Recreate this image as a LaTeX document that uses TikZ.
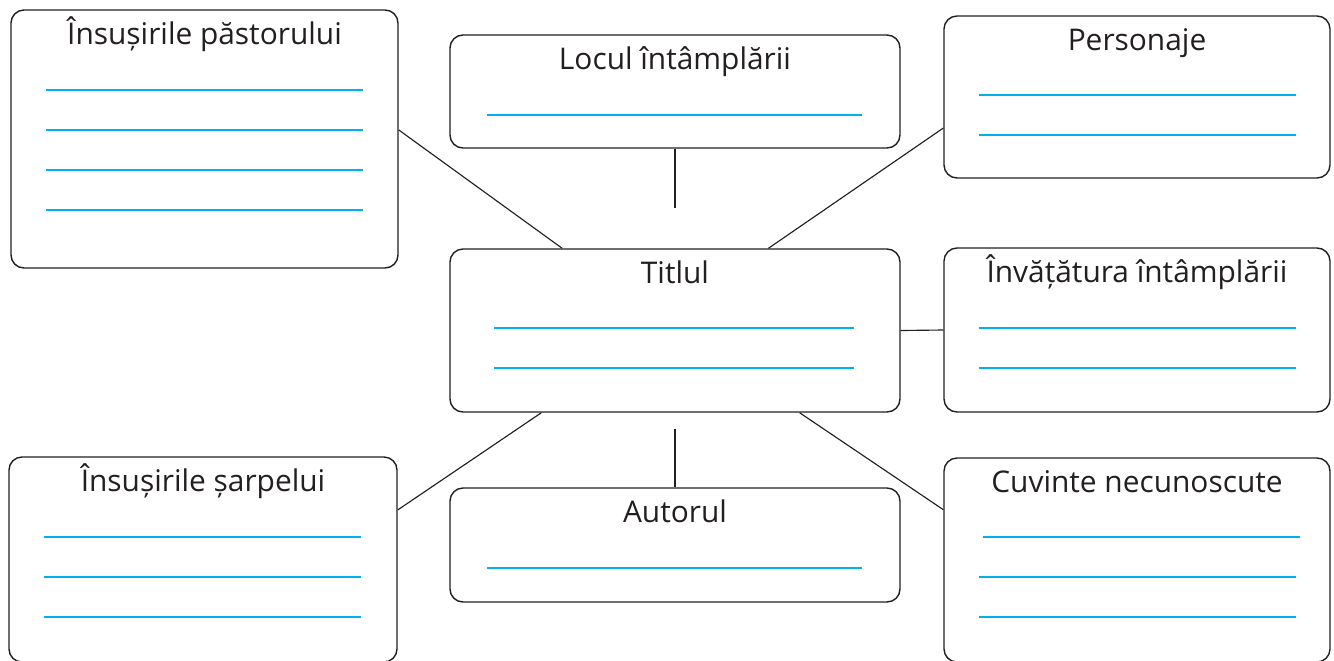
\documentclass[tikz,border=0pt]{standalone}
\usepackage{fontspec}
\setmainfont{Open Sans}
\usetikzlibrary{fit, calc}

\definecolor{inkgray}{HTML}{231F20}
\definecolor{linecyan}{HTML}{00B0F0}

\begin{document}
\begin{tikzpicture}[x = 0.2mm, y = -0.2mm, % one unit is one pixel of the sheet
                line width = 0.75pt % line style
            ]

            \tikzstyle{box}=[draw = inkgray, rounded corners = 2.6mm,
            inner sep = 0pt, line width = 0.8pt]
            \tikzstyle{title}=[anchor = base, inner sep = 0pt, text = inkgray,
            font = \fontsize{17}{19}\selectfont]
            \tikzstyle{writeline}=[draw = linecyan, line width = 1.4pt]
            \tikzstyle{link}=[draw = inkgray, line width = 0.65pt]

            \useasboundingbox (0,0) rectangle (1334,660);

            % boxes
            \node[box, fit = {(11,10) (398,268)}] (pastor) {};
            \node[box, fit = {(450,35) (900,148)}] (locul) {};
            \node[box, fit = {(944,16) (1330,178)}] (pers) {};
            \node[box, fit = {(450,249) (900,412)}] (titlu) {};
            \node[box, fit = {(944,248) (1330,412)}] (invat) {};
            \node[box, fit = {(9,457) (397,662)}] (sarpe) {};
            \node[box, fit = {(450,488) (900,602)}] (autor) {};
            \node[box, fit = {(944,458) (1330,662)}] (cuvinte) {};

            % titles
            \node[title] at ([yshift = -7mm]pastor.north) {Însușirile păstorului};
            \node[title] at ([yshift = -7mm]locul.north) {Locul întâmplării};
            \node[title] at ([yshift = -7mm]pers.north) {Personaje};
            \node[title] at ([yshift = -7mm]titlu.north) {Titlul};
            \node[title] at ([yshift = -7mm]invat.north) {Învățătura întâmplării};
            \node[title] at ([yshift = -7mm]sarpe.north) {Însușirile șarpelui};
            \node[title] at ([yshift = -7mm]autor.north) {Autorul};
            \node[title] at ([yshift = -7mm]cuvinte.north) {Cuvinte necunoscute};

            % lines to write on
            \foreach \y in {90,130,170,210} \draw[writeline] (46,\y) -- (363,\y);
            \draw[writeline] (487,115) -- (862,115);
            \foreach \y in {95,135} \draw[writeline] (979,\y) -- (1296,\y);
            \foreach \y in {328,368} \draw[writeline] (494,\y) -- (854,\y);
            \foreach \y in {328,368} \draw[writeline] (979,\y) -- (1296,\y);
            \foreach \y in {537,577,617} \draw[writeline] (44,\y) -- (361,\y);
            \draw[writeline] (487,568) -- (862,568);
            \draw[writeline] (983,537) -- (1300,537);
            \foreach \y in {577,617} \draw[writeline] (979,\y) -- (1296,\y);

            % free ends of the two short strokes
            \coordinate (locgap) at (675,208);
            \coordinate (autgap) at (675,429);

            \path[link] ($(pastor.north east)!0.465!(pastor.south east)$) --
            ($(titlu.north west)!0.25!(titlu.north east)$);
            \path[link] ($(pers.north west)!0.69!(pers.south west)$) --
            ($(titlu.north west)!0.707!(titlu.north east)$);
            \path[link] ($(titlu.south west)!0.204!(titlu.south east)$) --
            ($(sarpe.north east)!0.26!(sarpe.south east)$);
            \path[link] ($(titlu.south west)!0.776!(titlu.south east)$) --
            ($(cuvinte.north west)!0.255!(cuvinte.south west)$);
            \path[link] (titlu.east) -- (invat.west);
            \path[link] (locul.south) -- (locgap);
            \path[link] (autgap) -- (autor.north);
\end{tikzpicture}
\end{document}
